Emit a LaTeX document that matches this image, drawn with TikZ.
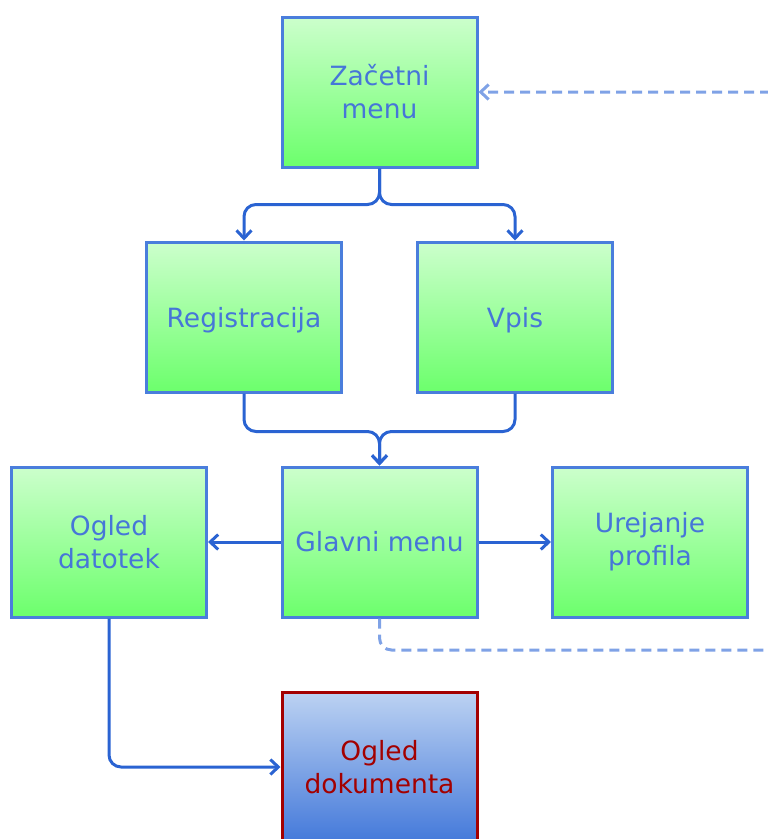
\documentclass[tikz,border=0pt]{standalone}
\usepackage{fontspec}
\setmainfont{DejaVu Sans}
\usetikzlibrary{arrows.meta}
\definecolor{boxline}{HTML}{4A7EDC}
\definecolor{boxtext}{HTML}{4676D8}
\definecolor{greentop}{HTML}{CCFFCC}
\definecolor{greenbot}{HTML}{6CFF6C}
\definecolor{bluetop}{HTML}{BCD2F2}
\definecolor{bluebot}{HTML}{4479DA}
\definecolor{docred}{HTML}{A30000}
\definecolor{conn}{HTML}{2A63D2}
\definecolor{dashconn}{HTML}{7FA2E6}
\tikzset{
  screen/.style={draw=boxline, line width=3pt, top color=greentop, bottom color=greenbot,
    minimum width=195pt, minimum height=150pt, inner sep=0pt, align=center,
    text=boxtext, font=\fontsize{26.5}{33}\selectfont},
  flat/.style={text depth=0pt},
  docbox/.style={screen, draw=docred, top color=bluetop, bottom color=bluebot, text=docred},
  flow/.style={draw=conn, line width=3pt, rounded corners=12pt,
    -{Straight Barb[length=8pt,width=15pt,line width=3pt]}},
  backflow/.style={flow, draw=dashconn, dash pattern=on 10pt off 6pt}
}
\begin{document}
\begin{tikzpicture}[x=1pt,y=-1pt]
  \useasboundingbox (0,0) rectangle (768,839);
  \clip (0,0) rectangle (768,839);

  % screens of the application
  \node[screen] (zac) at (379.5,92) {Začetni\\menu};
  \node[screen, flat] (reg) at (244,317) {Registracija};
  \node[screen, flat] (vpis) at (515,317) {Vpis};
  \node[screen] (dat) at (109,542) {Ogled\\datotek};
  \node[screen] (glavni) at (379.5,542) {Glavni menu};
  \node[screen] (profil) at (650,542) {Urejanje\\profila};
  \node[docbox] (dok) at (379.5,767) {Ogled\\dokumenta};

  % transitions
  \draw[flow] (zac.south) -- ++(0,36) -| (reg.north);
  \draw[flow] (zac.south) -- ++(0,36) -| (vpis.north);
  \draw[flow] (reg.south) -- ++(0,38) -| (glavni.north);
  \draw[flow] (vpis.south) -- ++(0,38) -| (glavni.north);
  \draw[flow] (glavni.west) -- (dat.east);
  \draw[flow] (glavni.east) -- (profil.west);
  \draw[flow] (dat.south) |- (dok.west);

  % return from the main menu to the start screen
  \coordinate (loop) at (800,650);
  \draw[backflow] (glavni.south) |- (loop) |- (zac.east);
\end{tikzpicture}
\end{document}
